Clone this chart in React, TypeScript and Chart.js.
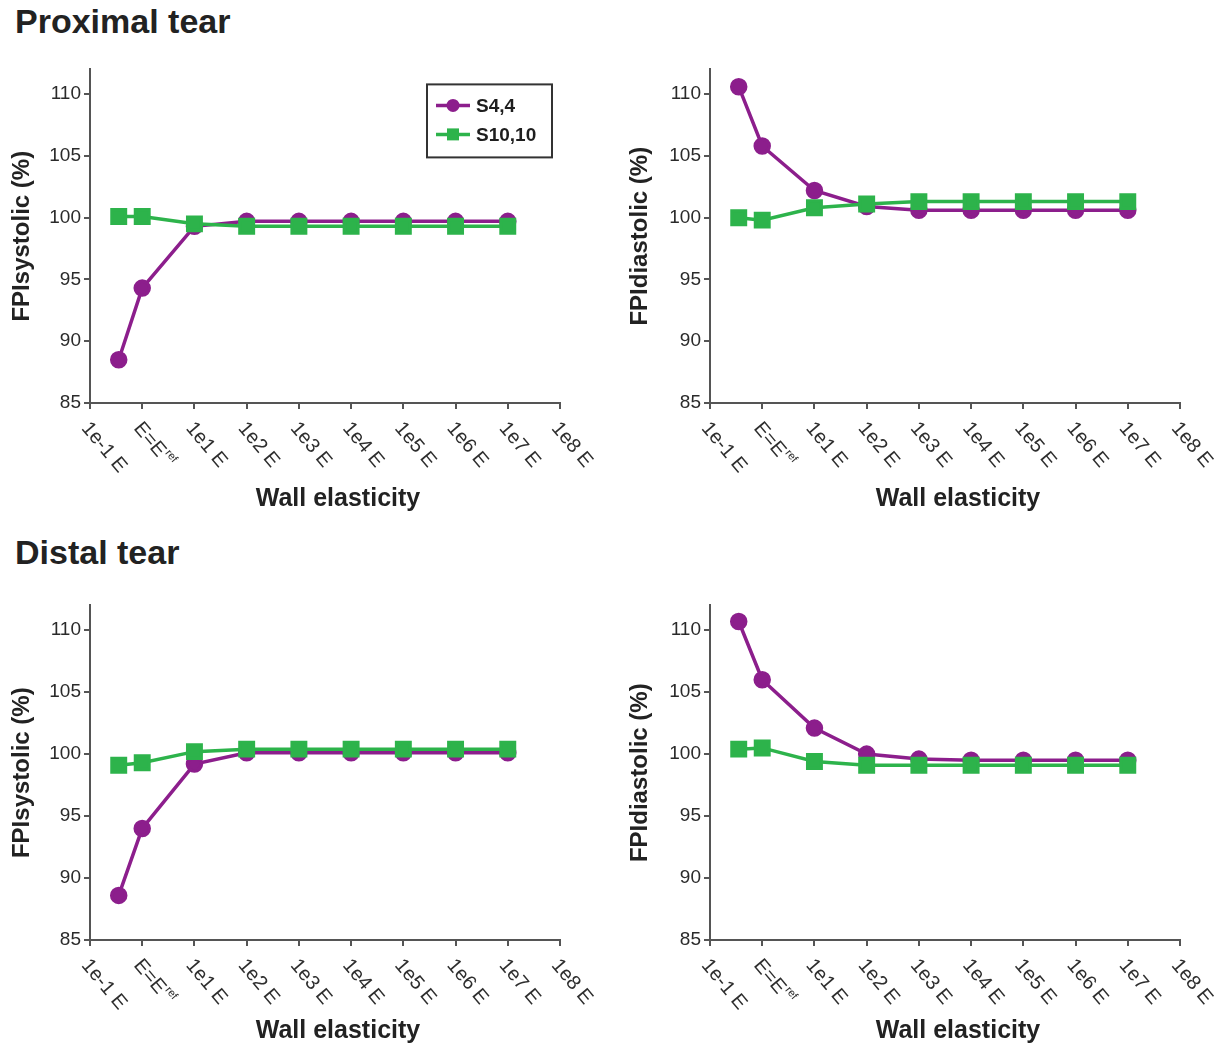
import React, { useEffect, useRef } from 'react';
import { Chart, registerables } from 'chart.js';

Chart.register(...registerables);

const FONT = '"Liberation Sans", Arial, Helvetica, sans-serif';

// ---- data ----
const X_TICK_LABELS = ['1e-1 E', 'E=E^ref', '1e1 E', '1e2 E', '1e3 E', '1e4 E', '1e5 E', '1e6 E', '1e7 E', '1e8 E'];
const X_POSITIONS = [0.55, 1, 2, 3, 4, 5, 6, 7, 8];
const Y_TICKS = [85, 90, 95, 100, 105, 110];
const SERIES_NAMES = ['S4,4', 'S10,10'];
const X_TITLE = 'Wall elasticity';
const SECTION_TITLES = ['Proximal tear', 'Distal tear'];
const Y_TITLES = ['FPIsystolic (%)', 'FPIdiastolic (%)'];

const PROX_SYS_S44 = [88.5, 94.3, 99.3, 99.7, 99.7, 99.7, 99.7, 99.7, 99.7];
const PROX_SYS_S1010 = [100.1, 100.1, 99.5, 99.3, 99.3, 99.3, 99.3, 99.3, 99.3];
const PROX_DIA_S44 = [110.6, 105.8, 102.2, 100.9, 100.6, 100.6, 100.6, 100.6, 100.6];
const PROX_DIA_S1010 = [100.0, 99.8, 100.8, 101.1, 101.3, 101.3, 101.3, 101.3, 101.3];
const DIST_SYS_S44 = [88.6, 94.0, 99.2, 100.1, 100.1, 100.1, 100.1, 100.1, 100.1];
const DIST_SYS_S1010 = [99.1, 99.3, 100.2, 100.4, 100.4, 100.4, 100.4, 100.4, 100.4];
const DIST_DIA_S44 = [110.7, 106.0, 102.1, 100.0, 99.6, 99.5, 99.5, 99.5, 99.5];
const DIST_DIA_S1010 = [100.4, 100.5, 99.4, 99.1, 99.1, 99.1, 99.1, 99.1, 99.1];

const PURPLE = '#8C1E8C';
const GREEN = '#2DB34B';
const AXIS = '#555555';
const TEXT = '#222222';

const decorPlugin = {
  id: 'decor',
  afterDraw(chart: any, _args: any, opts: any) {
    const { ctx, chartArea } = chart;
    const xs = chart.scales.x;
    const axisY = xs.top;
    ctx.save();
    ctx.fillStyle = '#2e2e2e';
    (opts.labels || []).forEach((lab: string, i: number) => {
      const px = xs.getPixelForValue(i);
      ctx.save();
      ctx.translate(px - 5, axisY + 22);
      ctx.rotate((50 * Math.PI) / 180);
      ctx.textAlign = 'left';
      ctx.textBaseline = 'middle';
      ctx.font = `20px ${FONT}`;
      const parts = lab.split('^');
      ctx.fillText(parts[0], 0, 0);
      if (parts[1]) {
        const w = ctx.measureText(parts[0]).width;
        ctx.font = `11px ${FONT}`;
        ctx.fillText(parts[1], w + 1, -6);
      }
      ctx.restore();
    });
    if (opts.titleText) {
      ctx.fillStyle = TEXT;
      ctx.font = `bold 25px ${FONT}`;
      ctx.textAlign = 'center';
      ctx.textBaseline = 'middle';
      ctx.fillText(opts.titleText, (chartArea.left + chartArea.right) / 2 + 13, chart.height - opts.titleOffset);
    }
    if (opts.legend) {
      const bx = chartArea.left + 337;
      const by = chartArea.top + 15;
      const bw = 125;
      const bh = 73;
      ctx.strokeStyle = '#333333';
      ctx.lineWidth = 2;
      ctx.strokeRect(bx, by, bw, bh);
      chart.data.datasets.forEach((ds: any, i: number) => {
        const y = by + 21 + i * 29;
        ctx.strokeStyle = ds.borderColor;
        ctx.lineWidth = 3.5;
        ctx.beginPath();
        ctx.moveTo(bx + 9, y);
        ctx.lineTo(bx + 43, y);
        ctx.stroke();
        ctx.fillStyle = ds.borderColor;
        if (ds.pointStyle === 'rect') {
          ctx.fillRect(bx + 26 - 6, y - 6, 12, 12);
        } else {
          ctx.beginPath();
          ctx.arc(bx + 26, y, 6.5, 0, Math.PI * 2);
          ctx.fill();
        }
        ctx.fillStyle = '#1e1e1e';
        ctx.font = `bold 19px ${FONT}`;
        ctx.textAlign = 'left';
        ctx.textBaseline = 'middle';
        ctx.fillText(ds.label, bx + 49, y + 1);
      });
    }
    ctx.restore();
  },
};

type PanelProps = {
  left: number;
  top: number;
  width: number;
  height: number;
  xHeight: number;
  xTitleOffset: number;
  yTitlePad: number;
  rightPad: number;
  yTitle: string;
  s44: number[];
  s1010: number[];
  legend: boolean;
};

function Panel(p: PanelProps) {
  const ref = useRef<HTMLCanvasElement | null>(null);
  useEffect(() => {
    if (!ref.current) return;
    const gridOpts = {
      display: true,
      drawOnChartArea: false,
      drawTicks: true,
      tickLength: 6,
      color: AXIS,
      lineWidth: 2,
    };
    const chart = new Chart(ref.current, {
      type: 'line',
      data: {
        datasets: [
          {
            label: SERIES_NAMES[0],
            data: X_POSITIONS.map((x, i) => ({ x, y: p.s44[i] })),
            borderColor: PURPLE,
            backgroundColor: PURPLE,
            pointBackgroundColor: PURPLE,
            pointBorderColor: PURPLE,
            pointStyle: 'circle',
            pointRadius: 7,
            borderWidth: 3.5,
            tension: 0,
            order: 1,
            clip: false as any,
          },
          {
            label: SERIES_NAMES[1],
            data: X_POSITIONS.map((x, i) => ({ x, y: p.s1010[i] })),
            borderColor: GREEN,
            backgroundColor: GREEN,
            pointBackgroundColor: GREEN,
            pointBorderColor: GREEN,
            pointStyle: 'rect',
            pointRadius: 9.5,
            borderWidth: 3.5,
            tension: 0,
            order: 0,
            clip: false as any,
          },
        ],
      },
      options: {
        animation: false,
        responsive: false,
        devicePixelRatio: 1,
        layout: { padding: { top: 10, right: p.rightPad, left: 0, bottom: 0 } },
        plugins: {
          legend: { display: false },
          tooltip: { enabled: false },
          decor: { labels: X_TICK_LABELS, legend: p.legend, titleText: X_TITLE, titleOffset: p.xTitleOffset },
        } as any,
        scales: {
          x: {
            type: 'linear',
            min: 0,
            max: 9,
            afterBuildTicks: (s: any) => {
              s.ticks = X_TICK_LABELS.map((_, i) => ({ value: i }));
            },
            ticks: { display: false },
            grid: gridOpts as any,
            border: { display: true, color: AXIS, width: 2 },
            afterFit: (s: any) => {
              s.height = p.xHeight;
            },
          },
          y: {
            type: 'linear',
            min: 85,
            max: 112,
            afterBuildTicks: (s: any) => {
              s.ticks = Y_TICKS.map((v) => ({ value: v }));
            },
            ticks: {
              color: '#2a2a2a',
              font: { family: FONT, size: 19 },
              padding: 3,
            },
            grid: gridOpts as any,
            border: { display: true, color: AXIS, width: 2 },
            title: {
              display: true,
              text: p.yTitle,
              color: TEXT,
              font: { family: FONT, size: 24, weight: 'bold' },
              padding: { top: p.yTitlePad, bottom: 0 },
            },
            afterFit: (s: any) => {
              s.width = 90;
            },
          },
        },
      },
      plugins: [decorPlugin as any],
    });
    return () => chart.destroy();
  }, []);
  return (
    <canvas
      ref={ref}
      width={p.width}
      height={p.height}
      style={{ position: 'absolute', left: p.left, top: p.top, width: p.width, height: p.height }}
    />
  );
}

const titleStyle = (top: number): React.CSSProperties => ({
  position: 'absolute',
  left: 15,
  top,
  fontFamily: FONT,
  fontWeight: 'bold',
  fontSize: 34,
  lineHeight: '34px',
  color: '#222222',
  whiteSpace: 'nowrap',
});

export default function App() {
  return (
    <div
      style={{
        position: 'absolute',
        left: 0,
        top: 0,
        width: 1217,
        height: 1047,
        background: '#ffffff',
        overflow: 'hidden',
      }}
    >
      <div style={titleStyle(4)}>{SECTION_TITLES[0]}</div>
      <div style={titleStyle(535)}>{SECTION_TITLES[1]}</div>
      <Panel left={0} top={55} width={600} height={470} xHeight={122} xTitleOffset={26} yTitlePad={8} rightPad={40}
        yTitle={Y_TITLES[0]} s44={PROX_SYS_S44} s1010={PROX_SYS_S1010} legend={true} />
      <Panel left={620} top={55} width={597} height={470} xHeight={122} xTitleOffset={26} yTitlePad={6} rightPad={37}
        yTitle={Y_TITLES[1]} s44={PROX_DIA_S44} s1010={PROX_DIA_S1010} legend={false} />
      <Panel left={0} top={591} width={600} height={456} xHeight={107} xTitleOffset={16} yTitlePad={8} rightPad={40}
        yTitle={Y_TITLES[0]} s44={DIST_SYS_S44} s1010={DIST_SYS_S1010} legend={false} />
      <Panel left={620} top={591} width={597} height={456} xHeight={107} xTitleOffset={16} yTitlePad={6} rightPad={37}
        yTitle={Y_TITLES[1]} s44={DIST_DIA_S44} s1010={DIST_DIA_S1010} legend={false} />
    </div>
  );
}
